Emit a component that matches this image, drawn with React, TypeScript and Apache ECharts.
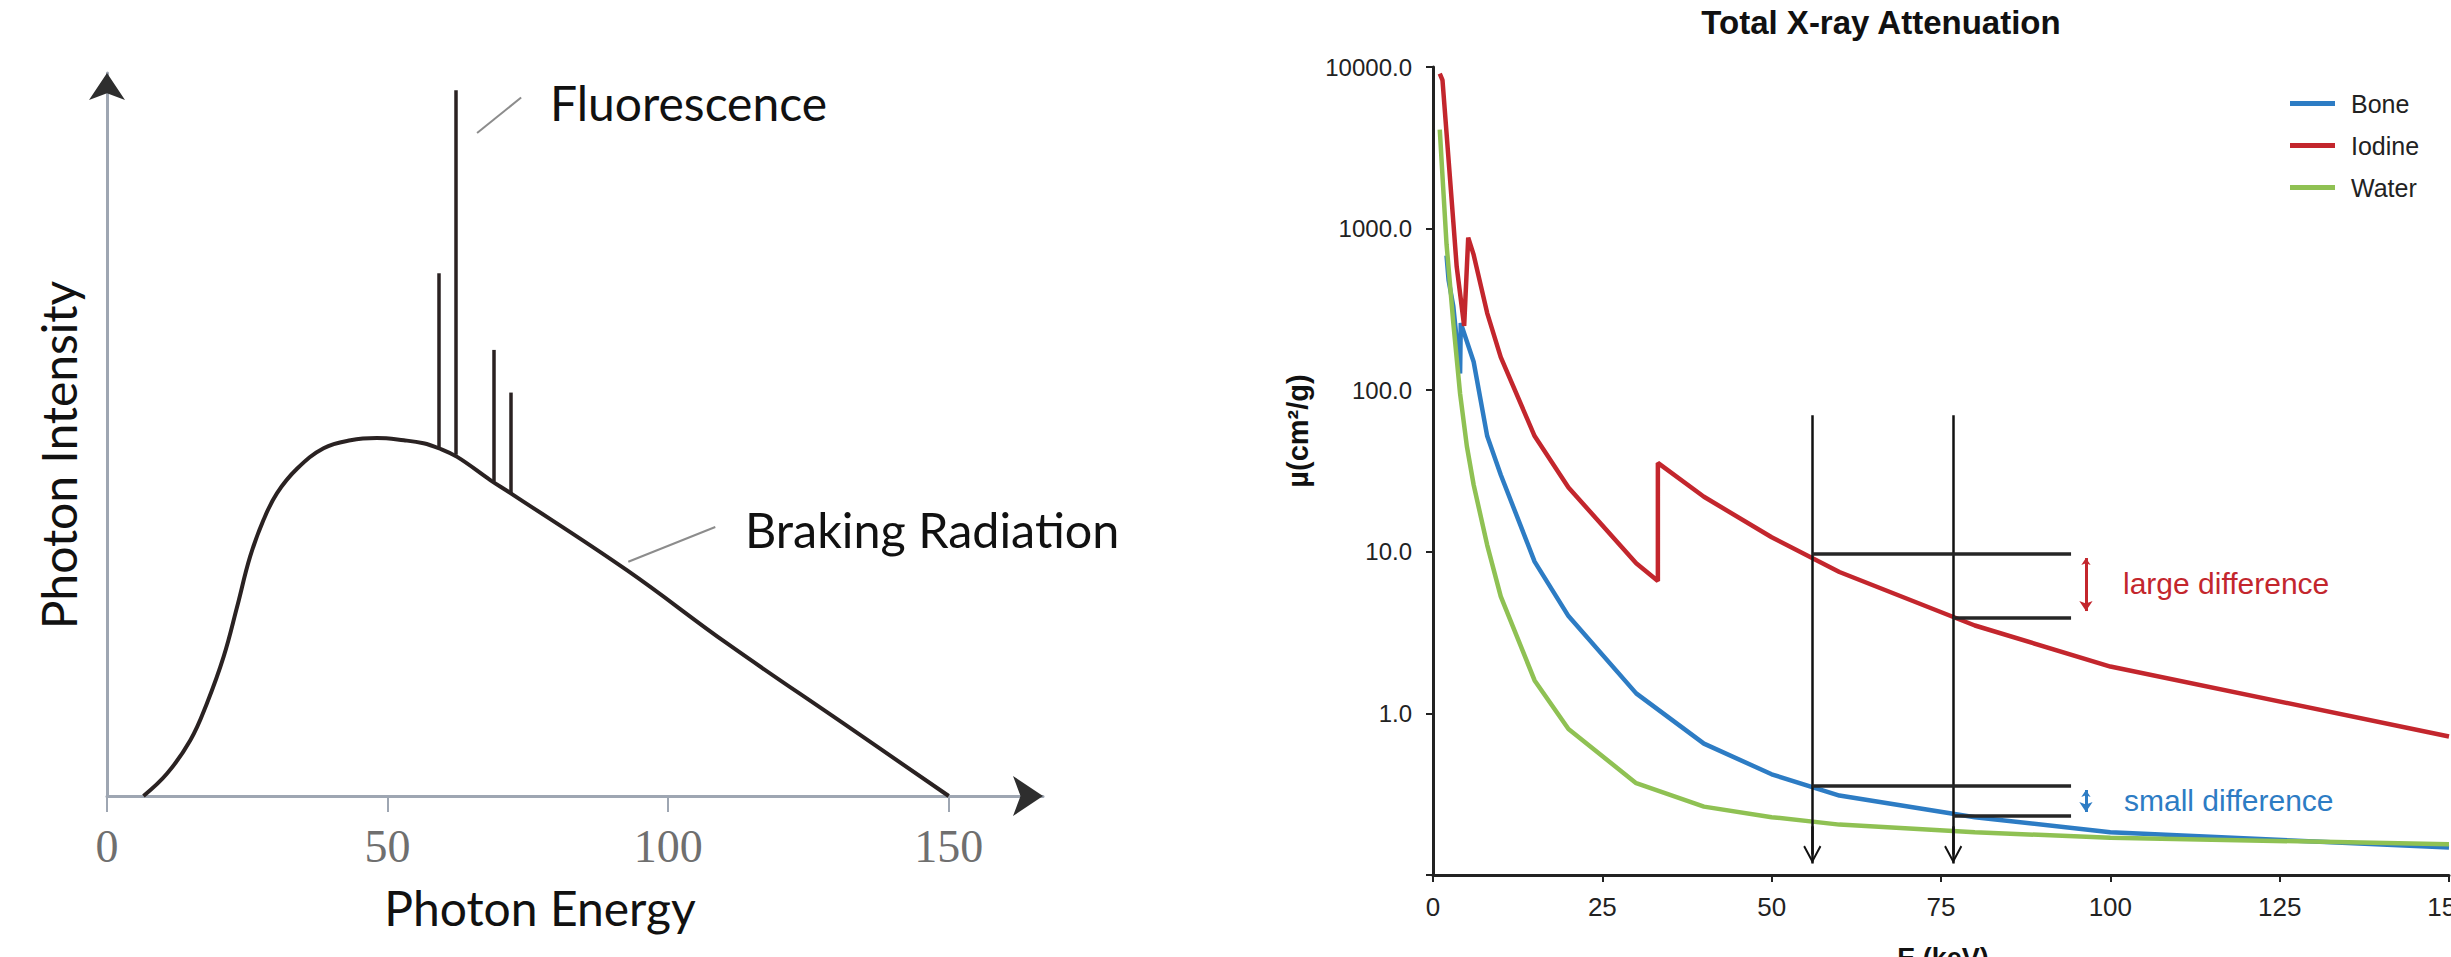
import React, { useEffect, useRef } from 'react';
import * as echarts from 'echarts';

// ---------- Left panel: X-ray tube spectrum ----------
const spectrumEnergy = [6.5, 10.7, 14.85, 17.8, 20.8, 23.2, 25.5, 27.9, 30.3, 33.9, 38.6, 43.4, 48.1, 52.9, 56.4, 59.1, 62.4, 68.3, 71.9, 92.7, 110.5, 131.3, 150];
const spectrumIntensity = [0, 3.1, 7.7, 12.8, 19.3, 26.2, 33.1, 38.2, 41.9, 45.3, 48.1, 49.2, 49.5, 49.2, 48.8, 48.1, 46.9, 43.7, 41.9, 31.2, 21.1, 10.0, 0];
const peakEnergy = [59.1, 62.1, 68.9, 72.0];
const peakBase = [48.1, 47.2, 43.5, 41.9];
const peakTop = [72.3, 97.6, 61.7, 55.8];
const spectrumTicks = [0, 50, 100, 150];
const spectrumXMax = 166.8;
const spectrumYMax = 100;
// leader lines for the annotations [x1, y1, x2, y2]
const fluorescencePointer = [65.95, 91.7, 73.8, 96.6];
const brakingPointer = [92.9, 32.4, 108.4, 37.2];

// ---------- Right panel: total X-ray attenuation ----------
const boneEnergy = [2.0, 2.3, 3.0, 4.0, 4.1, 6.0, 8.0, 10, 15, 20, 30, 40, 50, 60, 80, 100, 150];
const boneMu = [680, 480, 330, 127, 260, 150, 52, 30, 8.7, 4.0, 1.33, 0.65, 0.42, 0.31, 0.228, 0.184, 0.148];
const iodineEnergy = [1.0, 1.4, 2.0, 3.0, 3.5, 4.6, 5.2, 6.0, 8.0, 10, 15, 20, 30, 33.2, 33.2, 40, 50, 60, 80, 100, 150];
const iodineMu = [9100, 8300, 3900, 1100, 580, 250, 880, 690, 300, 160, 52, 25, 8.5, 6.6, 35.5, 21.9, 12.3, 7.5, 3.5, 1.95, 0.72];
const waterEnergy = [1.0, 1.5, 2.0, 3.0, 4.0, 5.0, 6.0, 8.0, 10, 15, 20, 30, 40, 50, 60, 80, 100, 150];
const waterMu = [4100, 1800, 800, 260, 95, 45, 26, 11, 5.3, 1.6, 0.8, 0.37, 0.265, 0.228, 0.205, 0.184, 0.17, 0.155];

const compareEnergy = [56.0, 76.8];
const iodineAtCompare = [9.66, 3.93];
const boneAtCompare = [0.356, 0.232];
const guideTop = 70;
const guideTip = 0.118;
const arrowHeadStart = 0.2;
const arrowHeadEnd = 0.134;
const guideRight = 94.2;
const diffArrowEnergy = 96.4;
const largeDiffRange = [9.15, 4.3];
const smallDiffRange = [0.336, 0.2455];

const BLUE = '#2d7cc4';
const RED = '#c3262d';
const GREEN = '#8fc153';
const INK = '#2a2222';
const SANS = '"Liberation Sans", Arial, sans-serif';
const HUMAN = 'Lato, "Open Sans", sans-serif';

const chevron = 'path://M10,0 L20,16.6 L18.2,18 L10,4.2 L1.8,18 L0,16.6 Z';

function zip(xs: number[], ys: number[]) {
  return xs.map((x, i) => [x, ys[i]]);
}

export default function App() {
  const ref = useRef<HTMLDivElement>(null);

  useEffect(() => {
    if (!ref.current) return;
    const chart = echarts.init(ref.current, undefined, { renderer: 'svg' });

    const option: any = {
      animation: false,
      backgroundColor: '#ffffff',
      title: {
        text: 'Total X-ray Attenuation',
        left: 1881,
        top: 6,
        textAlign: 'center',
        padding: 0,
        textStyle: { fontFamily: SANS, fontWeight: 'bold', fontSize: 33, color: '#111' },
      },
      legend: {
        data: ['Bone', 'Iodine', 'Water'],
        orient: 'vertical',
        left: 2290,
        top: 91,
        itemWidth: 45,
        itemHeight: 5,
        itemGap: 17,
        icon: 'rect',
        padding: 0,
        textStyle: { fontFamily: SANS, fontSize: 25, color: '#222', padding: [0, 0, 0, 11] },
      },
      grid: [
        { left: 107, top: 73, width: 936, height: 723, outerBoundsMode: 'none', containLabel: false },
        { left: 1433, top: 67, width: 1016, height: 808, outerBoundsMode: 'none', containLabel: false },
      ],
      xAxis: [
        {
          gridIndex: 0,
          type: 'value',
          min: 0,
          max: spectrumXMax,
          interval: 50,
          axisLine: { show: true, onZero: false, lineStyle: { color: '#9ea6b2', width: 3 } },
          axisTick: { show: true, customValues: spectrumTicks, length: 16, lineStyle: { color: '#9ea6b2', width: 2 } },
          axisLabel: {
            customValues: spectrumTicks,
            margin: 27,
            fontFamily: '"Liberation Serif", "Times New Roman", serif',
            fontSize: 46,
            color: '#6f6f6f',
          },
          splitLine: { show: false },
        },
        {
          gridIndex: 1,
          type: 'value',
          min: 0,
          max: 150,
          interval: 25,
          axisLine: { show: true, onZero: false, lineStyle: { color: '#222', width: 3 } },
          axisTick: { show: true, length: 7, lineStyle: { color: '#222', width: 2 } },
          axisLabel: { margin: 19, fontFamily: SANS, fontSize: 26, color: '#222', hideOverlap: false },
          splitLine: { show: false },
        },
      ],
      yAxis: [
        {
          gridIndex: 0,
          type: 'value',
          min: 0,
          max: spectrumYMax,
          axisLine: { show: true, onZero: false, lineStyle: { color: '#9ea6b2', width: 3 } },
          axisTick: { show: false },
          axisLabel: { show: false },
          splitLine: { show: false },
        },
        {
          gridIndex: 1,
          type: 'log',
          logBase: 10,
          min: 0.1,
          max: 10000,
          axisLine: { show: true, onZero: false, lineStyle: { color: '#222', width: 3 } },
          axisTick: { show: true, length: 7, lineStyle: { color: '#222', width: 2 } },
          axisLabel: {
            margin: 21,
            fontFamily: SANS,
            fontSize: 24,
            color: '#222',
            formatter: (v: number) => (v >= 0.99 ? Number(v).toFixed(1) : ''),
          },
          splitLine: { show: false },
        },
      ],
      series: [
        // ----- left panel -----
        {
          name: 'Spectrum',
          type: 'line',
          xAxisIndex: 0,
          yAxisIndex: 0,
          data: zip(spectrumEnergy, spectrumIntensity),
          smooth: 0.4,
          showSymbol: false,
          lineStyle: { color: INK, width: 4 },
          z: 3,
        },
        {
          name: 'Fluorescence lines',
          type: 'lines',
          coordinateSystem: 'cartesian2d',
          xAxisIndex: 0,
          yAxisIndex: 0,
          data: peakEnergy.map((e, i) => ({ coords: [[e, peakBase[i]], [e, peakTop[i]]] })),
          lineStyle: { color: INK, width: 3.5, opacity: 1 },
          z: 3,
        },
        {
          name: 'Pointers',
          type: 'lines',
          coordinateSystem: 'cartesian2d',
          xAxisIndex: 0,
          yAxisIndex: 0,
          data: [fluorescencePointer, brakingPointer].map((p) => ({ coords: [[p[0], p[1]], [p[2], p[3]]] })),
          lineStyle: { color: '#8c8c8c', width: 2, opacity: 1 },
          z: 3,
        },
        {
          name: 'X arrow',
          type: 'lines',
          coordinateSystem: 'cartesian2d',
          xAxisIndex: 0,
          yAxisIndex: 0,
          clip: false,
          symbol: ['none', 'arrow'],
          symbolSize: [15, 30],
          data: [{ coords: [[spectrumXMax - 10, 0], [spectrumXMax, 0]] }],
          lineStyle: { color: '#2e2e2e', width: 0, opacity: 1 },
          z: 4,
        },
        {
          name: 'Y arrow',
          type: 'lines',
          coordinateSystem: 'cartesian2d',
          xAxisIndex: 0,
          yAxisIndex: 0,
          clip: false,
          symbol: ['none', 'arrow'],
          symbolSize: [10.5, 27],
          data: [{ coords: [[0, spectrumYMax - 10], [0, spectrumYMax]] }],
          lineStyle: { color: '#2e2e2e', width: 0, opacity: 1 },
          z: 4,
        },
        // ----- right panel -----
        {
          name: 'Bone',
          type: 'line',
          xAxisIndex: 1,
          yAxisIndex: 1,
          data: zip(boneEnergy, boneMu),
          showSymbol: false,
          color: BLUE,
          lineStyle: { color: BLUE, width: 4.5 },
        },
        {
          name: 'Iodine',
          type: 'line',
          xAxisIndex: 1,
          yAxisIndex: 1,
          data: zip(iodineEnergy, iodineMu),
          showSymbol: false,
          color: RED,
          lineStyle: { color: RED, width: 4.5 },
        },
        {
          name: 'Water',
          type: 'line',
          xAxisIndex: 1,
          yAxisIndex: 1,
          data: zip(waterEnergy, waterMu),
          showSymbol: false,
          color: GREEN,
          lineStyle: { color: GREEN, width: 4.5 },
        },
        {
          name: 'Guides',
          type: 'lines',
          coordinateSystem: 'cartesian2d',
          xAxisIndex: 1,
          yAxisIndex: 1,
          data: compareEnergy.map((e) => ({ coords: [[e, guideTop], [e, guideTip]] })),
          lineStyle: { color: '#111', width: 2.5, opacity: 1 },
          z: 5,
        },
        {
          name: 'Guide heads',
          type: 'lines',
          coordinateSystem: 'cartesian2d',
          xAxisIndex: 1,
          yAxisIndex: 1,
          clip: false,
          symbol: ['none', chevron],
          symbolSize: [20, 18],
          data: compareEnergy.map((e) => ({ coords: [[e, arrowHeadStart], [e, arrowHeadEnd]] })),
          lineStyle: { color: '#111', width: 2.5, opacity: 1 },
          z: 5,
        },
        {
          name: 'Levels',
          type: 'lines',
          coordinateSystem: 'cartesian2d',
          xAxisIndex: 1,
          yAxisIndex: 1,
          data: [
            { coords: [[compareEnergy[0], iodineAtCompare[0]], [guideRight, iodineAtCompare[0]]] },
            { coords: [[compareEnergy[1], iodineAtCompare[1]], [guideRight, iodineAtCompare[1]]] },
            { coords: [[compareEnergy[0], boneAtCompare[0]], [guideRight, boneAtCompare[0]]] },
            { coords: [[compareEnergy[1], boneAtCompare[1]], [guideRight, boneAtCompare[1]]] },
          ],
          lineStyle: { color: '#262626', width: 3.5, opacity: 1 },
          z: 5,
        },
        {
          name: 'Large difference',
          type: 'lines',
          coordinateSystem: 'cartesian2d',
          xAxisIndex: 1,
          yAxisIndex: 1,
          symbol: ['arrow', 'arrow'],
          symbolSize: [7, 10],
          data: [{ coords: [[diffArrowEnergy, largeDiffRange[0]], [diffArrowEnergy, largeDiffRange[1]]] }],
          lineStyle: { color: RED, width: 3, opacity: 1 },
          z: 5,
        },
        {
          name: 'Small difference',
          type: 'lines',
          coordinateSystem: 'cartesian2d',
          xAxisIndex: 1,
          yAxisIndex: 1,
          symbol: ['arrow', 'arrow'],
          symbolSize: [7, 10],
          data: [{ coords: [[diffArrowEnergy, smallDiffRange[0]], [diffArrowEnergy, smallDiffRange[1]]] }],
          lineStyle: { color: BLUE, width: 3, opacity: 1 },
          z: 5,
        },
      ],
      graphic: [
        {
          type: 'text', x: 58, y: 455, rotation: Math.PI / 2,
          style: { text: 'Photon Intensity', fontFamily: HUMAN, fontSize: 48, fill: '#111', align: 'center', verticalAlign: 'middle', textAlign: 'center', textVerticalAlign: 'middle' },
        },
        {
          type: 'text', x: 540, y: 907,
          style: { text: 'Photon Energy', fontFamily: HUMAN, fontSize: 48, fill: '#111', align: 'center', verticalAlign: 'middle', textAlign: 'center', textVerticalAlign: 'middle' },
        },
        {
          type: 'text', x: 550, y: 102,
          style: { text: 'Fluorescence', fontFamily: HUMAN, fontSize: 48, fill: '#111', align: 'left', verticalAlign: 'middle', textAlign: 'left', textVerticalAlign: 'middle' },
        },
        {
          type: 'text', x: 745, y: 529,
          style: { text: 'Braking Radiation', fontFamily: HUMAN, fontSize: 48.5, fill: '#111', align: 'left', verticalAlign: 'middle', textAlign: 'left', textVerticalAlign: 'middle' },
        },
        {
          type: 'text', x: 1298, y: 431, rotation: Math.PI / 2,
          style: { text: 'µ(cm²/g)', fontFamily: SANS, fontWeight: 'bold', fontSize: 29, fill: '#111', align: 'center', verticalAlign: 'middle', textAlign: 'center', textVerticalAlign: 'middle' },
        },
        {
          type: 'text', x: 1943, y: 958,
          style: { text: 'E (keV)', fontFamily: SANS, fontWeight: 'bold', fontSize: 27, fill: '#111', align: 'center', verticalAlign: 'middle', textAlign: 'center', textVerticalAlign: 'middle' },
        },
        {
          type: 'text', x: 2123, y: 583,
          style: { text: 'large difference', fontFamily: SANS, fontSize: 30, fill: RED, align: 'left', verticalAlign: 'middle', textAlign: 'left', textVerticalAlign: 'middle' },
        },
        {
          type: 'text', x: 2124, y: 800,
          style: { text: 'small difference', fontFamily: SANS, fontSize: 30, fill: BLUE, align: 'left', verticalAlign: 'middle', textAlign: 'left', textVerticalAlign: 'middle' },
        },
      ],
    };

    chart.setOption(option);
    return () => {
      chart.dispose();
    };
  }, []);

  return (
    <div
      ref={ref}
      style={{ position: 'fixed', left: 0, top: 0, width: 2451, height: 957, background: '#ffffff' }}
    />
  );
}
